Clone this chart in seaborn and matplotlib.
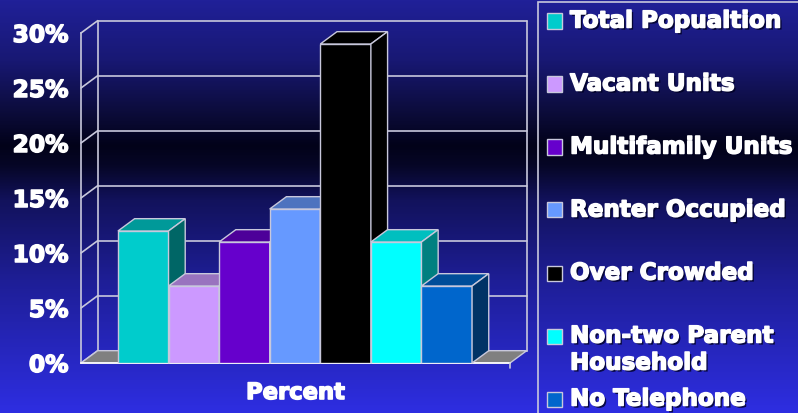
"""
3D-style bar chart of housing indicators, redrawn with seaborn.
"""

import numpy as np
import pandas as pd
import matplotlib
matplotlib.use("Agg")
import matplotlib.pyplot as plt
import matplotlib.patheffects as pe
from matplotlib.patches import Polygon, Rectangle
from matplotlib.colors import to_rgb
import seaborn as sns

sns.set_style("white")
plt.rcParams["font.family"] = ["DejaVu Sans"]


# Chart data.
categories = ["Total Popualtion", "Vacant Units", "Multifamily Units", "Renter Occupied",
              "Over Crowded", "Non-two Parent\nHousehold", "No Telephone"]
values = [12, 7, 11, 14, 29, 11, 7]
colors = ["#00cccc", "#cc99ff", "#6600cc", "#6699ff", "#000000", "#00ffff", "#0066cc"]
y_ticks = [0, 5, 10, 15, 20, 25, 30]
y_labels = ["0%", "5%", "10%", "15%", "20%", "25%", "30%"]

W, H = 798, 413
line_col = "#c8c8dc"
dx, dy = 0.33, 1.12   # depth of the 3D box, in data units

fig = plt.figure(figsize = (W / 100, H / 100), dpi = 100)


# Background gradient (blue - black - blue).
bg = fig.add_axes([0, 0, 1, 1])
stop_y = [0, 60, 110, 145, 165, 200, 280, 413]
stop_c = np.array([(32, 32, 152), (24, 24, 115), (12, 12, 60), (2, 2, 25),
                   (6, 6, 38), (18, 18, 92), (30, 30, 150), (46, 46, 226)]) / 255
rows = np.arange(H)
grad = np.stack([np.interp(rows, stop_y, stop_c[:, k]) for k in range(3)], axis = 1)
bg.imshow(grad[:, None, :], aspect = "auto", extent = [0, 1, 0, 1])
bg.set_axis_off()
bg.set_zorder(-1)


# Main plot.
ax = fig.add_axes([81 / W, 50 / H, 429 / W, 330 / H])
ax.set_facecolor("none")

df = pd.DataFrame({"group": categories, "value": values})
sns.barplot(data = df, x = "group", y = "value", hue = "group", palette = colors,
            width = 1, dodge = False, legend = False, saturation = 1,
            edgecolor = line_col, linewidth = 1, ax = ax)
bars = list(ax.patches)

xl, xr = -1.23, 7.25
ax.set_xlim(xl, xr)
ax.set_ylim(0, 30)

# Floor and back walls.
ax.add_patch(Polygon([(xl, 0), (xr, 0), (xr + dx, dy), (xl + dx, dy)], closed = True,
                     facecolor = "#808080", edgecolor = line_col, lw = 1, clip_on = False, zorder = 2))
for yt in y_ticks:
    ax.plot([xl + dx, xr + dx], [yt + dy, yt + dy], color = line_col, lw = 1.2, clip_on = False, zorder = 1)
    ax.plot([xl, xl + dx], [yt, yt + dy], color = line_col, lw = 1.2, clip_on = False, zorder = 1)
for xv in (xl + dx, xr + dx):
    ax.plot([xv, xv], [dy, 30 + dy], color = line_col, lw = 1.2, clip_on = False, zorder = 1)
ax.plot([xr, xr], [0, -0.45], color = line_col, lw = 1.2, clip_on = False, zorder = 3)

# Top and side faces for each bar.
for i, (p, c) in enumerate(zip(bars, colors)):
    p.set_zorder(5 + i)
    x0, w, h = p.get_x(), p.get_width(), p.get_height()
    base = np.array(to_rgb(c))
    top = Polygon([(x0, h), (x0 + w, h), (x0 + w + dx, h + dy), (x0 + dx, h + dy)], closed = True,
                  facecolor = base * 0.75, edgecolor = line_col, lw = 1, clip_on = False, zorder = 5.5 + i)
    side = Polygon([(x0 + w, 0), (x0 + w + dx, dy), (x0 + w + dx, h + dy), (x0 + w, h)], closed = True,
                   facecolor = base * 0.5, edgecolor = line_col, lw = 1, clip_on = False, zorder = 5.5 + i)
    ax.add_patch(top)
    ax.add_patch(side)

# Heavier text, like the original's black-weight font.
heavy = [pe.withStroke(linewidth = 1.1, foreground = "white")]

# Axes styling.
for s in ["top", "right"]:
    ax.spines[s].set_visible(False)
for s in ["left", "bottom"]:
    ax.spines[s].set_color(line_col)
    ax.spines[s].set_linewidth(1.2)
ax.spines["bottom"].set_color("white")
ax.set_xticks([])
ax.set_yticks(y_ticks)
ax.set_yticklabels(y_labels)
ax.tick_params(axis = "y", length = 5, width = 1.2, color = line_col, pad = 4,
               labelcolor = "white", labelsize = 16.8)
for lab in ax.get_yticklabels():
    lab.set_fontweight("bold")
    lab.set_path_effects(heavy)
ax.set_ylabel("")
ax.set_xlabel("Percent", color = "white", fontsize = 16.3, fontweight = "bold", labelpad = 13,
              path_effects = heavy)


# Legend drawn by hand.
fig.add_artist(Rectangle((538 / W, -0.05), 1, 411 / H + 0.05, fill = False,
                         edgecolor = line_col, lw = 1.2, transform = fig.transFigure))
shadow = [pe.withSimplePatchShadow(offset = (1.5, -1.5), shadow_rgbFace = "#000022", alpha = 0.8),
          pe.withStroke(linewidth = 1.1, foreground = "white")]
for i, (lab, c) in enumerate(zip(categories, colors)):
    y_px = 21 + 63 * i
    fig.add_artist(Rectangle((547 / W, 1 - (y_px + 7.5) / H), 15 / W, 15 / H, facecolor = c,
                             edgecolor = line_col, lw = 1, transform = fig.transFigure))
    for j, line in enumerate(lab.split("\n")):
        fig.text(570 / W, 1 - (y_px + 27 * j) / H, line, color = "white", fontsize = 16.6,
                 fontweight = "bold", va = "center", ha = "left", path_effects = shadow)

fig.savefig("out.png", dpi = 100)
